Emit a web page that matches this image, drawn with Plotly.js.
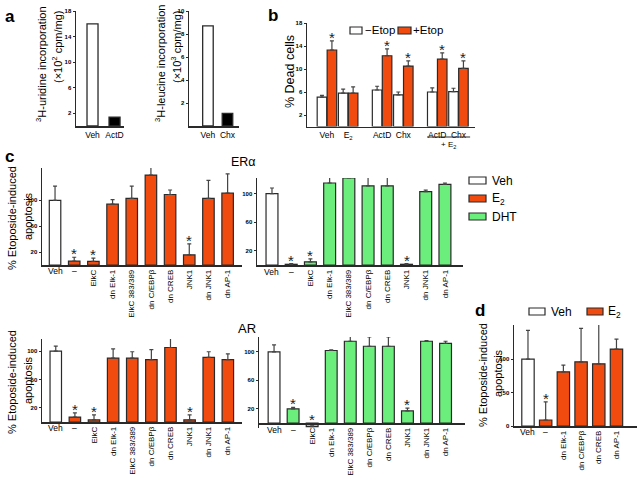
<!DOCTYPE html>
<html>
<head>
<meta charset="utf-8">
<script src="https://cdn.plot.ly/plotly-3.0.1.min.js"></script>
<style>html,body{margin:0;padding:0;background:#fff}</style>
</head>
<body>
<div id="fig" style="width:637px;height:481px"></div>
<script>
// a: incorporation
const aUriCats = ['Veh', 'ActD'];
const aUriVals = [16, 1.4];
const aLeuCats = ['Veh', 'Chx'];
const aLeuVals = [8.7, 1.1];

// b: dead cells
const bCats = ['Veh', 'E<sub>2</sub>', 'ActD', 'Chx', 'ActD', 'Chx'];
const bMinus = [5.1, 5.8, 6.35, 5.5, 6.0, 6.05];
const bMinusErr = [0.3, 0.7, 0.65, 0.5, 0.7, 0.6];
const bPlus = [13.3, 5.8, 12.3, 10.5, 11.7, 10.1];
const bPlusErr = [1.6, 1.1, 1.2, 0.9, 1.1, 1.3];
const bStars = [true, false, true, true, true, true];

// c: etoposide-induced apoptosis
const cCats = ['Veh', '–', 'ElkC', 'dn Elk-1', 'ElkC 383/389', 'dn C/EBPβ', 'dn CREB', 'JNK1', 'dn JNK1', 'dn AP-1'];
const erE2 = [100, 6, 5.5, 94, 103, 139, 109, 15.6, 103, 111];
const erE2Err = [22, 6, 5, 7, 19, 12, 7, 17, 28, 30];
const erDht = [100, 1, 4.5, 115, 122, 111, 111, 1, 103, 113];
const erDhtErr = [8, 1, 4, 10, 6, 17, 17, 1, 2, 2];
const arE2 = [100, 7, 3, 90, 90, 88, 105, 3, 91, 88];
const arE2Err = [7, 6, 7, 13, 9, 14, 15, 7, 8, 8];
const arDht = [100, 20, -5, 102, 115, 108, 108, 17, 115, 112];
const arDhtErr = [10, 2, 1, 1, 7, 13, 13, 4, 1, 3];
const cStarCats = ['–', 'ElkC', 'JNK1'];

// d
const dCats = ['Veh', '–', 'dn Elk-1', 'dn C/EBPβ', 'dn CREB', 'dn AP-1'];
const dVals = [100, 9, 81, 96, 93, 115];
const dErr = [43, 27, 10, 50, 59, 15];
const dStarCats = ['–'];

const W = 637, H = 481;
const px = v => v / W;
const py = v => 1 - v / H;
const ORANGE = '#F24B10', GREEN = '#6CEE7C', INK = '#2a2a2a';
const FONT = 'Liberation Sans, Arial, sans-serif';

const traces = [];
const layout = {
  width: W, height: H, autosize: false,
  margin: {l: 0, r: 0, t: 0, b: 0, pad: 0},
  paper_bgcolor: '#fff', plot_bgcolor: 'rgba(0,0,0,0)',
  showlegend: false,
  font: {family: FONT, color: '#000'},
  annotations: [], shapes: []
};

function yAxis(n, top, bottom, range, tickvals) {
  layout['yaxis' + n] = {
    domain: [py(bottom), py(top)], range, tickvals, anchor: 'x' + n,
    showline: true, linecolor: INK, linewidth: 1.5,
    ticks: 'outside', ticklen: 2, tickwidth: 1, tickcolor: INK,
    tickfont: {size: 6, weight: 'bold', family: FONT},
    showgrid: false, zeroline: false, fixedrange: true
  };
}
function xAxis(n, left, right, range, extra) {
  layout['xaxis' + n] = Object.assign({
    domain: [px(left), px(right)], range, anchor: 'y' + n,
    showline: true, linecolor: INK, linewidth: 1.5,
    ticks: '', showgrid: false, zeroline: false, fixedrange: true,
    tickfont: {size: 8.5, family: FONT}
  }, extra);
}
function note(text, x, y, size, opts) {
  layout.annotations.push(Object.assign({
    text, x: px(x), y: py(y), xref: 'paper', yref: 'paper',
    xanchor: 'center', yanchor: 'middle',
    showarrow: false, font: {size, family: FONT, color: '#000'}
  }, opts));
}
function swatch(x0, y0, x1, y1, color) {
  layout.shapes.push({type: 'rect', xref: 'paper', yref: 'paper',
    x0: px(x0), x1: px(x1), y0: py(y1), y1: py(y0),
    fillcolor: color, line: {color: INK, width: 1.2}});
}
function star(n, x, y) {
  layout.annotations.push({text: '*', x, y, xref: 'x' + n, yref: 'y' + n,
    xanchor: 'center', yanchor: 'bottom', yshift: -7, showarrow: false,
    font: {size: 15, family: FONT, color: '#222'}});
}
function errBar(arr) {
  return {type: 'data', symmetric: false, array: arr, arrayminus: arr.map(() => 0),
    color: '#444', thickness: 1.2, width: 2};
}

// ---- panel a
[[1, aUriCats, aUriVals, 76, 124, [-0.75, 1.43], 0.5, [0, 18], [2, 6, 10, 14, 18]],
 [2, aLeuCats, aLeuVals, 189, 239, [-0.97, 1.59], 0.54, [0, 10], [2, 4, 6, 8, 10]]]
.forEach(([n, cats, vals, l, r, xr, w, yr, tv]) => {
  traces.push({type: 'bar', x: cats, y: vals, xaxis: 'x' + n, yaxis: 'y' + n, width: w,
    marker: {color: ['#fff', '#000'], line: {color: INK, width: 1.3}}});
  xAxis(n, l, r, xr, {type: 'category'});
  yAxis(n, 11, 126, yr, tv);
});

// ---- panel b
const bPos = bCats.map((c, i) => i + Math.floor(i / 2) * 0.6);
traces.push({type: 'bar', x: bPos, y: bMinus, xaxis: 'x3', yaxis: 'y3', width: 0.45, offset: -0.46,
  marker: {color: '#fff', line: {color: INK, width: 1.2}}, error_y: errBar(bMinusErr), cliponaxis: false});
traces.push({type: 'bar', x: bPos, y: bPlus, xaxis: 'x3', yaxis: 'y3', width: 0.45, offset: 0.01,
  marker: {color: ORANGE, line: {color: INK, width: 1.2}}, error_y: errBar(bPlusErr), cliponaxis: false});
xAxis(3, 307, 475, [-0.94, 6.98], {tickvals: bPos, ticktext: bCats});
yAxis(3, 23, 126.5, [0, 18], [2, 6, 10, 14, 18]);
bStars.forEach((s, i) => { if (s) star(3, bPos[i] + 0.235, bPlus[i] + bPlusErr[i]); });
layout.shapes.push({type: 'line', xref: 'x3', yref: 'paper',
  x0: bPos[4] - 0.48, x1: bPos[5] + 0.55, y0: py(137), y1: py(137), line: {color: INK, width: 1}});
note('+ E<sub>2</sub>', 449, 145, 8);
swatch(350, 27, 362, 34, '#fff');
swatch(398, 27, 411, 34, ORANGE);
note('−Etop', 363, 30.5, 11.5, {xanchor: 'left'});
note('+Etop', 411, 30.5, 11.5, {xanchor: 'left'});

// ---- panel c + d
function catPanel(n, cats, vals, errs, color, l, r, top, bottom, xr, yr, tv, w, hy, starCats) {
  traces.push({type: 'bar', x: cats, y: vals, xaxis: 'x' + n, yaxis: 'y' + n, width: w,
    marker: {color: cats.map((c, i) => i === 0 ? '#fff' : color), line: {color: INK, width: 1.2}},
    error_y: errBar(errs), cliponaxis: false});
  xAxis(n, l, r, xr, {type: 'category', categoryarray: cats, tickvals: cats.slice(2),
    ticktext: cats.slice(2), tickangle: -90, tickfont: {size: 8, family: FONT}});
  yAxis(n, top, bottom, yr, tv);
  cats.slice(0, 2).forEach(c => layout.annotations.push({text: c, x: c, xref: 'x' + n,
    y: py(hy), yref: 'paper', xanchor: 'center', yanchor: 'middle', showarrow: false,
    font: {size: 8.5, family: FONT, color: '#000'}}));
  starCats.forEach(c => {
    const i = cats.indexOf(c);
    star(n, c, Math.max(vals[i] + errs[i], 0));
  });
}
catPanel(4, cCats, erE2, erE2Err, ORANGE, 42, 242, 168, 265, [-0.68, 9.75], [0, 150], [20, 60, 100], 0.6, 271, cStarCats);
catPanel(5, cCats, erDht, erDhtErr, GREEN, 257, 463, 178, 265, [-0.78, 9.94], [0, 122], [20, 60, 100], 0.62, 272, cStarCats);
catPanel(6, cCats, arE2, arE2Err, ORANGE, 42, 242, 339, 422, [-0.72, 9.74], [0, 117], [20, 60, 100], 0.6, 428, cStarCats);
catPanel(7, cCats, arDht, arDhtErr, GREEN, 259, 465, 337, 428, [-0.79, 10.02], [-7, 121], [20, 60, 100], 0.62, 430, cStarCats);
// AR/DHT: the x axis sits at zero, the ElkC bar dips below it
Object.assign(layout.xaxis7, {anchor: 'free', position: py(423)});
catPanel(8, dCats, dVals, dErr, ORANGE, 514, 637, 325, 426, [-0.79, 6.16], [0, 151], [0, 50, 100], 0.7, 432, dStarCats);

note('ERα', 243, 162, 12.5);
note('AR', 247, 328, 13);
swatch(469, 177, 486, 184, '#fff');
swatch(469, 195, 486, 202, ORANGE);
swatch(469, 213, 486, 220, GREEN);
note('Veh', 490, 180.5, 12, {xanchor: 'left'});
note('E<sub>2</sub>', 490, 198.5, 12, {xanchor: 'left'});
note('DHT', 490, 216.5, 12, {xanchor: 'left'});
swatch(529, 308, 545, 315, '#fff');
swatch(587, 308, 603, 315, ORANGE);
note('Veh', 549, 311.5, 12, {xanchor: 'left'});
note('E<sub>2</sub>', 606, 311.5, 12, {xanchor: 'left'});

// axis titles
const rot = {textangle: -90};
note('<sup>3</sup>H-uridine incorporation', 41, 64, 11, rot);
note('(×10<sup>2</sup> cpm/mg)', 57, 47, 11, rot);
note('<sup>3</sup>H-leucine incorporation', 160, 64, 11, rot);
note('(×10<sup>3</sup> cpm/mg)', 176, 47, 11, rot);
note('% Dead cells', 290, 72, 12.5, rot);
note('% Etoposide-induced', 12, 218, 11, rot);
note('apoptosis', 28, 216, 11, rot);
note('% Etoposide-induced', 12, 382, 11, rot);
note('apoptosis', 28, 380, 11, rot);
note('% Etoposide-induced', 483, 375, 11, rot);
note('apoptosis', 498, 373, 11, rot);

// panel letters
[['a', 10, 16], ['b', 273, 15], ['c', 9, 156], ['d', 480, 310]].forEach(([t, x, y]) =>
  note('<b>' + t + '</b>', x, y, 17));

Plotly.newPlot('fig', traces, layout, {staticPlot: true, displayModeBar: false});
</script>
</body>
</html>
